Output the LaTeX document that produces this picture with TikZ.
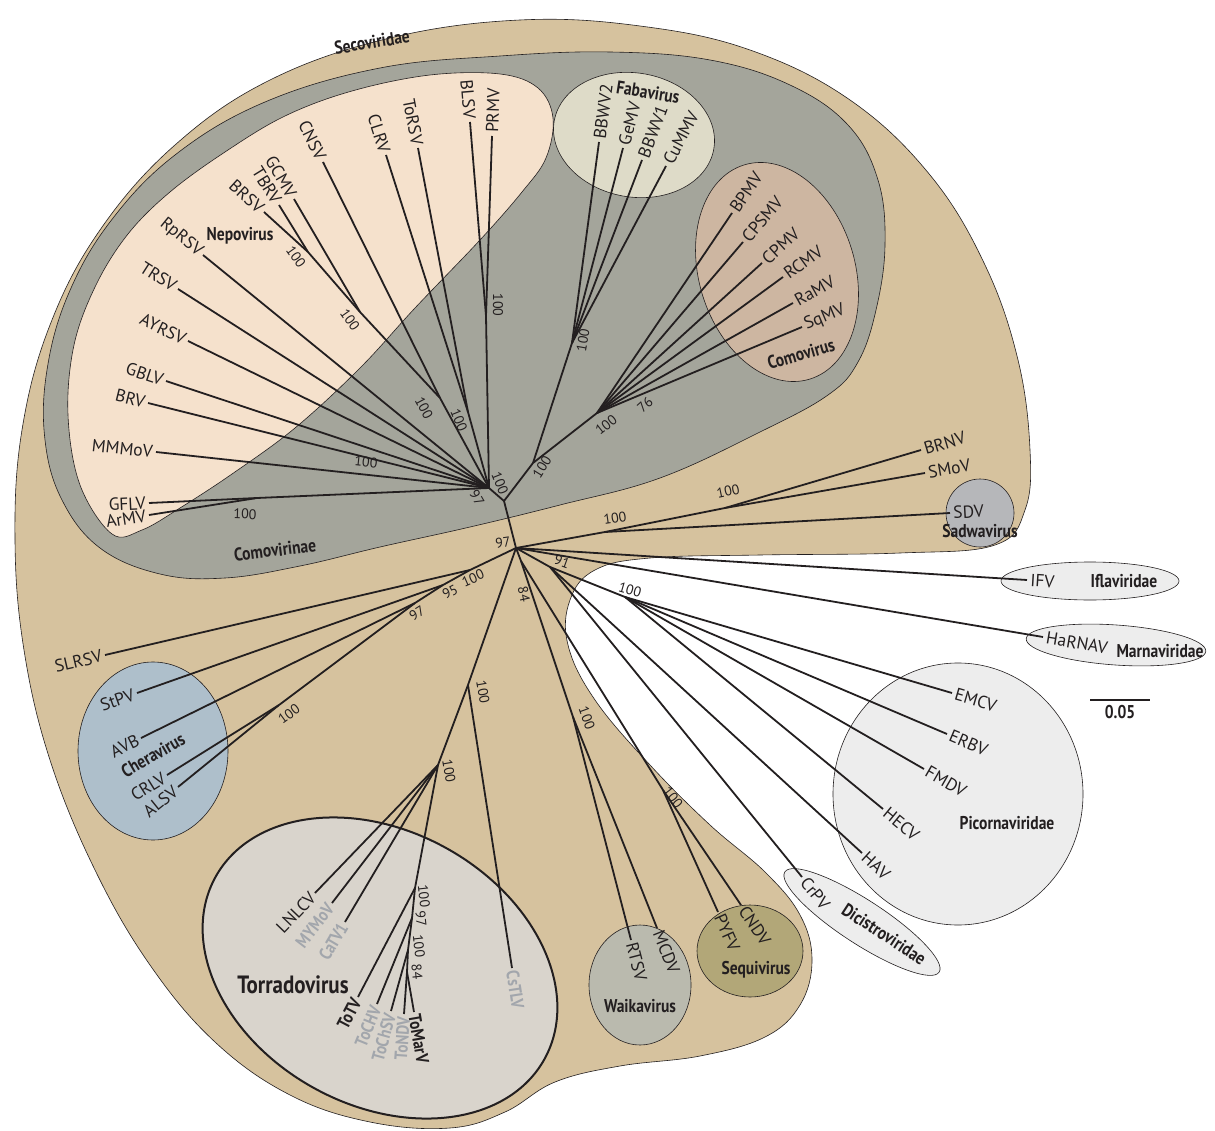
\documentclass[tikz,border=0pt]{standalone}
\usepackage{fontspec}
\setmainfont{PT Sans}
\newfontfamily\gf{PT Sans}[FakeStretch=0.84]
\usepackage{xcolor}
\usetikzlibrary{positioning,calc}
\definecolor{ink}{HTML}{231F20}
\definecolor{pale}{HTML}{A2A6AC}
\definecolor{seco}{HTML}{D6C29E}
\definecolor{como}{HTML}{A4A59B}
\definecolor{nepo}{HTML}{F5E1CC}
\definecolor{faba}{HTML}{DEDBC8}
\definecolor{comv}{HTML}{CDB6A1}
\definecolor{sadw}{HTML}{B6B7BA}
\definecolor{cher}{HTML}{AEBFCB}
\definecolor{torr}{HTML}{D9D4CC}
\definecolor{waik}{HTML}{BABAAE}
\definecolor{sequ}{HTML}{B2A778}
\definecolor{fam}{HTML}{EDEDED}
\tikzset{
  br/.style={line width=1.8pt,draw=ink},
  blob/.style={draw=ink,line width=0.6pt},
  lf/.style={pos=1,sloped,inner sep=2.5pt,text=ink,font=\fontsize{17.5}{17.5}\selectfont},
  lfL/.style={lf,anchor=east},
  lfR/.style={lf,anchor=west},
  lfLb/.style={lfL,inner sep=2pt,font=\gf\bfseries\fontsize{18}{18}\selectfont},
  lfRb/.style={lfR,inner sep=2pt,font=\gf\bfseries\fontsize{18}{18}\selectfont},
  lfLg/.style={lfLb,text=pale},
  lfRg/.style={lfRb,text=pale},
  bs/.style={inner sep=0pt,text=ink,font=\fontsize{14}{14}\selectfont},
  grp/.style={inner sep=0pt,text=ink,font=\gf\bfseries\fontsize{18.5}{18.5}\selectfont},
}
\begin{document}
\begin{tikzpicture}[x=1pt,y=-1pt]
\useasboundingbox (0,0) rectangle (1215,1131);
\fill[white] (0,0) rectangle (1215,1131);

% groups
\filldraw[blob,fill=seco] plot[smooth cycle,tension=0.65] coordinates {(520,20) (640,26) (750,50) (850,100) (930,175) (985,265) (1018,360) (1030,450) (1025,510) (995,545) (900,553) (760,555) (650,558) (595,570) (570,600) (568,645) (595,700) (650,765) (710,825) (765,872) (800,915) (812,960) (800,1005) (765,1037) (700,1056) (620,1066) (555,1082) (505,1112) (450,1128) (370,1122) (290,1095) (215,1042) (150,965) (95,870) (50,760) (24,650) (15,540) (22,430) (50,325) (100,230) (175,145) (270,80) (390,38)};
\filldraw[blob,fill=como] plot[smooth cycle,tension=0.65] coordinates {(500,56) (610,52) (710,60) (790,85) (848,125) (878,180) (885,245) (876,310) (858,362) (828,395) (760,432) (660,478) (560,505) (470,527) (380,547) (300,566) (225,578) (160,574) (100,548) (62,500) (45,440) (47,370) (68,295) (110,222) (175,155) (265,102) (380,68)};
\filldraw[blob,fill=nepo] plot[smooth cycle,tension=0.6] coordinates {(112,534) (80,485) (68,415) (74,345) (96,285) (128,234) (170,192) (225,152) (285,116) (352,91) (430,75) (500,74) (538,88) (553,118) (546,158) (522,192) (480,240) (415,308) (360,368) (295,428) (232,474) (180,508) (142,530)};
\filldraw[blob,fill=faba,rotate around={-10:(634,135)}] (634,135) ellipse [x radius=81,y radius=62];
\filldraw[blob,fill=comv,rotate around={17:(777,272)}] (777,272) ellipse [x radius=78,y radius=112];
\filldraw[blob,fill=sadw] (980,513) circle [radius=34];
\filldraw[blob,fill=cher] (153,751) ellipse [x radius=75,y radius=89];
\filldraw[draw=ink,line width=2pt,fill=torr,rotate around={-29:(380,968)}] (380,968) ellipse [x radius=188,y radius=137];
\filldraw[blob,fill=waik] (640,985) ellipse [x radius=51,y radius=60];
\filldraw[blob,fill=sequ] (750,951) ellipse [x radius=53,y radius=46];
\filldraw[blob,fill=fam] (1090,581) ellipse [x radius=89,y radius=19];
\filldraw[blob,fill=fam,rotate around={-4:(1116,645)}] (1116,645) ellipse [x radius=90,y radius=20];
\filldraw[blob,fill=fam] (958,794) ellipse [x radius=125,y radius=131];
\filldraw[blob,fill=fam,rotate around={-33:(862,922)}] (862,922) ellipse [x radius=92,y radius=22];

% group names
\node[grp,rotate=9] (seconame) at (372,42) {Secoviridae};
\node[grp,rotate=7] (comoname) at (275,550) {Comovirinae};
\node[grp] (neponame) at (240,236) {Nepovirus};
\node[grp,rotate=-9] (fabaname) at (648,92) {Fabavirus};
\node[grp,rotate=16] (comvname) at (801,354) {Comovirus};
\node[grp] (sadwname) at (980,531) {Sadwavirus};
\node[grp] (iflaname) at (1124,581) {Iflaviridae};
\node[grp] (marnname) at (1160,651) {Marnaviridae};
\node[grp] (piconame) at (1007,823) {Picornaviridae};
\node[grp,rotate=-33] (dicname) at (884,934) {Dicistroviridae};
\node[grp] (sequname) at (756,970) {Sequivirus};
\node[grp] (waikname) at (640,1006) {Waikavirus};
\node[grp,font=\gf\bfseries\fontsize{25}{25}\selectfont] (torrname) at (293,985) {Torradovirus};
\node[grp,rotate=30] (chername) at (153,755) {Cheravirus};

% tree
\foreach \n/\x/\y in {R/516/548, A/504/501, N/489/488, B/533/463, Fb/572/343, Cm/597/413,
  JC/440/398, JG/360/312, JTB/308/252, JT/468/412, JBP/486/316, JGA/257/498,
  S/605/532, T/725/508, P91/550/567, Pc/625/597, Q/521/561, W/573/717, Sq/663/790,
  C1/470/570, C2/443/585, C3/415/603, C4/279/705,
  Q1/468/685, Th/438/765, To1/415/888, To2/412/918, To3/408/950, To4/407/972}
  \coordinate (\n) at (\x,\y);
\foreach \n/\x/\y in {RpRSV/203/255, TRSV/178/289, AYRSV/188/341, GBLV/166/381, BRV/148/403,
  MMMoV/156/452, GFLV/149/503, ArMV/149/515, GCMV/294/199, TBRV/279/205, BRSV/264/212,
  CNSV/323/162, CLRV/386/155, ToRSV/418/148, BLSV/470/122, PRMV/492/136,
  BBWV2/599/142, GeMV/623/148, BBWV1/642/160, CuMMV/666/166,
  BPMV/732/213, CPSMV/743/242, CPMV/762/263, RCMV/783/277, RaMV/793/303, SqMV/802/327,
  BRNV/921/450, SMoV/925/473, SDV/950/513, IFV/1027/580, HaRNAV/1043/637,
  EMCV/952/693, ERBV/947/734, FMDV/924/769, HECV/883/809, HAV/862/853, CrPV/802/877,
  RTSV/631/940, MCDV/657/928, PYFV/718/912, CNDV/741/905, CsTLV/512/968,
  LNLCV/315/893, MYMoV/332/903, CaTV1/345/922, ToTV/358/997, ToCHV/377/1004,
  ToChSV/391/1011, ToNDV/404/1014, ToMarV/414/1012,
  SLRSV/105/655, StPV/137/693, AVB/141/738, CRLV/167/775, ALSV/178/787}
  \coordinate (\n) at (\x,\y);
\coordinate (sbL) at (1090,700);
\coordinate (sbR) at (1150,700);

\foreach \a/\b in {R/A, A/N, A/B, B/Fb, B/Cm, N/JC, JC/JG, JG/JTB, N/JT, N/JBP, N/JGA,
  R/S, S/T, R/P91, P91/Pc, R/Q, Q/W, Q/Sq, R/C1, C1/C2, C2/C3, C3/C4,
  R/Q1, Q1/Th, Th/To1, To1/To2, To2/To3, To3/To4}
  \draw[br] (\a) -- (\b);

\foreach \h/\n/\s in {N/RpRSV/lfL, N/TRSV/lfL, N/AYRSV/lfL, N/GBLV/lfL, N/BRV/lfL, N/MMMoV/lfL,
  JGA/GFLV/lfL, JGA/ArMV/lfL, JG/GCMV/lfL, JTB/TBRV/lfL, JTB/BRSV/lfL, JC/CNSV/lfL,
  JT/CLRV/lfL, JT/ToRSV/lfL, JBP/BLSV/lfL, JBP/PRMV/lfR,
  Fb/BBWV2/lfR, Fb/GeMV/lfR, Fb/BBWV1/lfR, Fb/CuMMV/lfR,
  Cm/BPMV/lfR, Cm/CPSMV/lfR, Cm/CPMV/lfR, Cm/RCMV/lfR, Cm/RaMV/lfR, Cm/SqMV/lfR,
  T/BRNV/lfR, T/SMoV/lfR, S/SDV/lfR, R/IFV/lfR, R/HaRNAV/lfR,
  Pc/EMCV/lfR, Pc/ERBV/lfR, Pc/FMDV/lfR, Pc/HECV/lfR, P91/HAV/lfR, P91/CrPV/lfR,
  W/RTSV/lfR, W/MCDV/lfR, Sq/PYFV/lfR, Sq/CNDV/lfR, Q1/CsTLV/lfRg,
  Th/LNLCV/lfL, Th/MYMoV/lfLg, Th/CaTV1/lfLg, To1/ToTV/lfLb, To2/ToCHV/lfLg,
  To3/ToChSV/lfLg, To4/ToNDV/lfLg, To4/ToMarV/lfRb,
  C1/SLRSV/lfL, C2/StPV/lfL, C3/AVB/lfL, C4/CRLV/lfL, C4/ALSV/lfL}
  \draw[br] (\h) -- (\n) node[\s] {\n};

% bootstrap values
\foreach \x/\y/\r/\t [count=\i] in {296/257/-55/100, 350/320/-55/100, 424/408/-62/100,
  459/420/-68/100, 498/305/-90/100, 366/462/-6/100, 245/514/-2/100, 477/498/-60/97,
  500/483/-68/100, 542/467/58/100, 583/340/80/100, 606/425/38/100, 645/405/42/76,
  503/543/8/97, 615/518/8/100, 728/491/12/100, 562/562/-20/91, 630/590/-16/100,
  524/594/-78/84, 473/578/24/100, 450/592/28/95, 417/613/32/97, 289/714/36/100,
  483/692/-80/100, 449/771/-80/100, 424/896/-84/100, 421/919/-84/97, 419/946/-84/100,
  417/972/-84/84, 587/718/-70/100, 673/797/-52/100}
  \node[bs,rotate=\r] (bs\i) at (\x,\y) {\t};

% scale bar
\draw[line width=2.4pt,draw=ink] (sbL) -- (sbR);
\node[grp,below=5pt of $(sbL)!0.5!(sbR)$] (sbtext) {0.05};
\end{tikzpicture}
\end{document}
